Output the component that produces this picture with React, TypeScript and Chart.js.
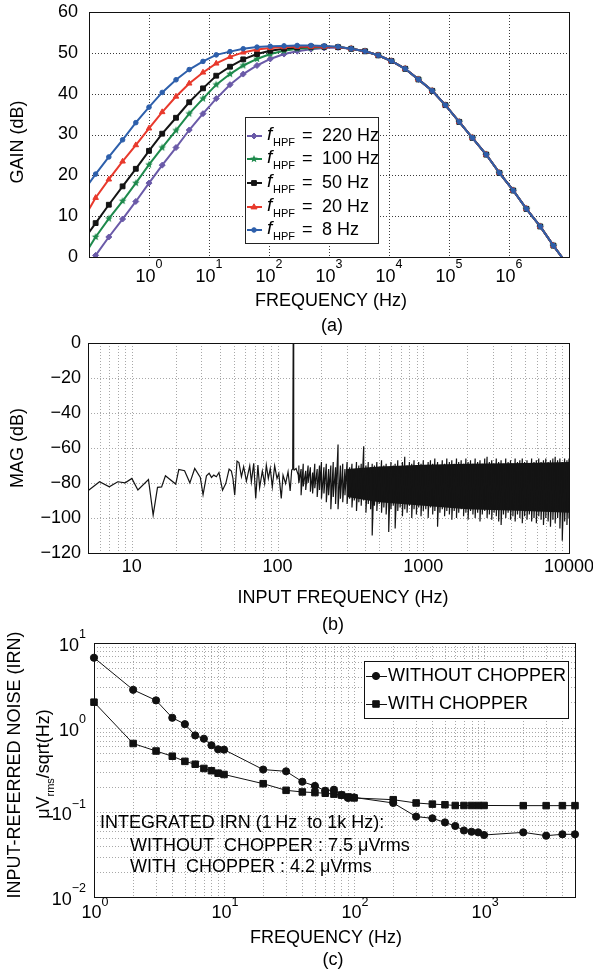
import React, { useEffect, useRef } from 'react';
import { Chart, registerables } from 'chart.js';

Chart.register(...registerables);

const W = 593;
const H = 974;
const FONT = '"Liberation Sans", Arial, Helvetica, sans-serif';
const FS = 18;

// ---------------- (a) GAIN vs FREQUENCY ----------------
const GAIN_FREQ_HZ = [0.1, 0.129, 0.214, 0.363, 0.603, 1, 1.66, 2.82, 4.68, 7.94, 13.2, 22.4, 37.2, 63.1, 105, 178, 295, 501, 832, 1413,
  2344, 3981, 6607, 10965, 18621, 30903, 52481, 87096, 147911, 245471, 416869, 691831, 1174898, 1949845, 3311311, 5495409, 10000000];
const GAIN_220HZ = [-1.8, 0.4, 4.9, 9.3, 13.6, 18.1, 22.5, 26.8, 31.1, 35.1, 38.8, 42.2, 44.8, 46.9, 48.5, 49.7, 50.4, 50.9, 51.2, 51.3];
const GAIN_100HZ = [2.3, 4.9, 9.4, 13.7, 18.1, 22.6, 26.8, 31.0, 35.1, 38.8, 42.2, 44.8, 46.9, 48.5, 49.7, 50.5, 51.0, 51.2, 51.4, 51.4];
const GAIN_50HZ = [6.0, 8.3, 12.8, 17.3, 21.6, 26.0, 30.2, 34.1, 37.9, 41.3, 44.4, 46.6, 48.4, 49.7, 50.5, 51.0, 51.3, 51.5, 51.5, 51.4];
const GAIN_20HZ = [11.7, 14.5, 19.0, 23.4, 27.4, 31.5, 35.5, 39.3, 42.5, 45.2, 47.4, 49.0, 50.1, 50.8, 51.2, 51.4, 51.5, 51.5, 51.5, 51.4];
const GAIN_8HZ = [18.0, 20.3, 24.5, 28.7, 32.9, 36.7, 40.3, 43.4, 45.9, 47.9, 49.5, 50.3, 51.0, 51.4, 51.6, 51.7, 51.8, 51.8, 51.7, 51.5];
// shared high-frequency roll-off (all curves coincide)
const GAIN_TAIL = [51.0, 50.4, 49.4, 48.0, 46.1, 43.5, 40.7, 37.2, 33.1, 29.2, 25.1, 20.6, 16.3, 11.8, 7.5, 2.8, -2.4];
const GAIN_X_TICKS = [1, 10, 100, 1000, 10000, 100000, 1000000];
const GAIN_X_EXP = ['0', '1', '2', '3', '4', '5', '6'];
const GAIN_Y_TICKS = [0, 10, 20, 30, 40, 50, 60];
const HPF_LABELS = ['220 Hz', '100 Hz', '50 Hz', '20 Hz', '8 Hz'];

// ---------------- (b) MAG vs INPUT FREQUENCY ----------------
const SPEC_LOW_F = [4.8, 6, 7, 8, 9, 10, 11, 13, 14, 15, 16, 17, 20, 21, 23, 25, 27, 29.5, 30.8, 32.5, 33.9, 35.2, 36.5, 38, 39.6, 41.9, 44.1, 46.5,
  48.2, 49.4, 50.8, 52.7, 54.3, 56.5, 58.5, 61.1, 64.4, 66.1, 68.6, 70.8, 73.3, 75.3, 78.6, 81.5, 83.7, 86.4, 89.1, 92, 95.5, 99.1, 102, 106,
  109, 113.5, 118, 122, 125, 127, 128, 129, 130, 134, 138.7];
const SPEC_LOW_DB = [-85.5, -79.3, -82.2, -79.3, -79.9, -77.4, -84.0, -78.0, -98.3, -82.5, -82.2, -75.9, -80.6, -72.3, -73.0, -79.9, -71.7, -76.8,
  -86.7, -75.9, -74.4, -76.8, -75.5, -76.4, -74.0, -84.1, -80.3, -72.1, -73.2, -77.4, -86.9, -67.5, -68.3, -76.4, -70.7, -78.9, -70.2, -79.3,
  -68.8, -88.8, -69.8, -82.7, -73.2, -80.3, -69.8, -77.4, -71.7, -82.2, -70.2, -77.4, -74.5, -88.8, -75.5, -80.3, -73.6, -84.6, -72.6, -72,
  0, -72, -72.6, -71.7, -75.5];
const NOISE_F = [140, 145, 150, 156, 162, 168, 174, 180, 187, 194,
  200, 208, 216, 224, 232, 241, 250, 260, 270, 280,
  290, 300, 312, 324, 336, 348, 361, 375, 390, 404,
  419, 435, 446, 462, 480, 498, 517, 536, 556, 579,
  600, 622, 641, 668, 693, 719, 746, 774, 803, 833,
  864, 897, 930, 965, 1000, 1040, 1080, 1120, 1160, 1200,
  1253, 1300, 1350, 1400, 1450, 1510, 1570, 1630, 1690, 1750,
  1820, 1890, 1960, 2030, 2110, 2190, 2270, 2360, 2450, 2540,
  2640, 2740, 2840, 2950, 3060, 3170, 3290, 3420, 3550, 3680,
  3820, 3970, 4120, 4270, 4430, 4600, 4780, 4960, 5150, 5340,
  5540, 5750, 5970, 6200, 6430, 6680, 6930, 7190, 7460, 7750,
  8040, 8350, 8660, 8990, 9330, 9680, 10000];
const NOISE_TOP = [-70, -72, -69, -73, -70, -71, -74, -69, -72, -70,
  -68, -71, -69, -72, -70, -68, -71, -58, -70, -69,
  -72, -68, -71, -69, -72, -68, -70, -69, -59, -70,
  -68, -71, -69, -70, -68, -71, -67, -70, -69, -71,
  -68, -70, -69, -67, -71, -68, -65, -70, -68, -69,
  -67, -70, -68, -69, -67, -70, -68, -67, -69, -66,
  -68, -70, -67, -69, -66, -68, -67, -69, -66, -68,
  -67, -69, -66, -68, -67, -69, -66, -68, -67, -69,
  -66, -65, -68, -67, -69, -66, -68, -67, -69, -66,
  -68, -67, -69, -66, -68, -67, -66, -68, -67, -69,
  -66, -68, -67, -66, -68, -67, -66, -68, -67, -66,
  -65, -67, -66, -68, -66, -67, -66];
const NOISE_BOT = [-80, -87, -82, -84, -80, -85, -86, -83, -88, -84,
  -89, -86, -91, -87, -95, -88, -92, -95, -89, -91,
  -87, -92, -89, -94, -90, -96, -91, -93, -90, -97,
  -92, -95, -110, -93, -96, -92, -97, -94, -98, -108,
  -95, -93, -106, -96, -94, -99, -95, -97, -93, -100,
  -95, -98, -94, -99, -96, -95, -100, -94, -98, -96,
  -105, -97, -95, -99, -96, -98, -101, -96, -100, -97,
  -95, -99, -97, -101, -96, -98, -100, -97, -102, -98,
  -96, -100, -98, -101, -97, -99, -102, -104, -98, -100,
  -97, -101, -99, -102, -98, -100, -103, -99, -101, -98,
  -102, -100, -103, -99, -101, -104, -100, -102, -105, -101,
  -103, -100, -106, -113, -102, -104, -100];
const BAND_F = [300, 500, 1000, 2000, 5000, 10000];
const BAND_TOP = [-72, -70.5, -69.5, -69, -68.5, -68];
const BAND_BOT = [-88, -91, -93, -95, -96, -97];
const SPEC_X_TICKS = [10, 100, 1000, 10000];
const SPEC_X_GRID = [6, 7, 8, 9, 10, 20, 30, 40, 50, 60, 70, 80, 90, 100, 200, 300, 400, 500, 600, 700, 800, 900, 1000,
  2000, 3000, 4000, 5000, 6000, 7000, 8000, 9000];
const SPEC_Y_TICKS = [0, -20, -40, -60, -80, -100, -120];

// ---------------- (c) INPUT-REFERRED NOISE ----------------
const IRN_F = [1, 2, 3, 4, 5, 6, 7, 8, 9, 10, 20, 30, 40, 50, 60, 70, 80, 90, 100, 200, 300, 400, 500, 600, 700, 800, 900, 1000,
  2000, 3000, 4000, 5000];
const IRN_WITHOUT = [6.7, 2.8, 2.1, 1.31, 1.1, 0.81, 0.74, 0.62, 0.555, 0.55, 0.32, 0.305, 0.23, 0.205, 0.18, 0.185, 0.16, 0.148, 0.15,
  0.129, 0.089, 0.085, 0.076, 0.069, 0.061, 0.059, 0.058, 0.054, 0.058, 0.053, 0.055, 0.055];
const IRN_WITH = [2.0, 0.65, 0.53, 0.46, 0.40, 0.37, 0.33, 0.31, 0.29, 0.28, 0.218, 0.182, 0.174, 0.171, 0.168, 0.164, 0.16, 0.152, 0.148,
  0.141, 0.129, 0.125, 0.123, 0.1205, 0.1205, 0.1205, 0.1205, 0.1205, 0.12, 0.12, 0.12, 0.12];
const IRN_X_TICKS = [1, 10, 100, 1000];
const IRN_X_EXP = ['0', '1', '2', '3'];
const IRN_Y_TICKS = [10, 1, 0.1, 0.01];
const IRN_Y_EXP = ['1', '0', '\u22121', '\u22122'];
const IRN_X_GRID = [2, 3, 4, 5, 6, 7, 8, 9, 10, 20, 30, 40, 50, 60, 70, 80, 90, 100, 200, 300, 400, 500, 600, 700, 800, 900, 1000,
  2000, 3000, 4000];
const IRN_Y_GRID = [0.02, 0.03, 0.04, 0.05, 0.06, 0.07, 0.08, 0.09, 0.1, 0.2, 0.3, 0.4, 0.5, 0.6, 0.7, 0.8, 0.9, 1,
  2, 3, 4, 5, 6, 7, 8, 9];
const IRN_LEGEND = ['WITHOUT CHOPPER', 'WITH CHOPPER'];
const IRN_NOTE = ['INTEGRATED IRN (1\u2009Hz  to 1k Hz):', 'WITHOUT  CHOPPER : 7.5 \u03bcVrms', 'WITH  CHOPPER : 4.2 \u03bcVrms'];

// ---------------- styles ----------------
const SERIES_A = [
  { vals: GAIN_220HZ, color: '#6a5aa8', marker: 'rectRot', r: 3 },
  { vals: GAIN_100HZ, color: '#1e8a4c', marker: 'star', r: 4 },
  { vals: GAIN_50HZ, color: '#141414', marker: 'rect', r: 3.4 },
  { vals: GAIN_20HZ, color: '#e8392c', marker: 'triangle', r: 3.2 },
  { vals: GAIN_8HZ, color: '#2d5fab', marker: 'circle', r: 2.3 },
];

function makeStar(color: string, r: number) {
  const c = document.createElement('canvas');
  const s = Math.ceil(r * 2 + 2);
  c.width = s; c.height = s;
  const g = c.getContext('2d')!;
  g.fillStyle = color;
  g.beginPath();
  for (let k = 0; k < 10; k++) {
    const ang = -Math.PI / 2 + (k * Math.PI) / 5;
    const rr = k % 2 === 0 ? r : r * 0.45;
    g.lineTo(s / 2 + rr * Math.cos(ang), s / 2 + rr * Math.sin(ang));
  }
  g.closePath();
  g.fill();
  return c;
}

function txt(ctx: any, s: string, x: number, y: number, size = FS, align: any = 'center', rot = 0, style = '') {
  ctx.save();
  ctx.translate(x, y);
  if (rot) ctx.rotate(rot);
  ctx.font = `${style}${size}px ${FONT}`;
  ctx.fillStyle = '#000';
  ctx.textAlign = align;
  ctx.textBaseline = 'middle';
  ctx.fillText(s, 0, 0);
  ctx.restore();
}

function pow10(ctx: any, exp: string, x: number, baseY: number, expY: number, align: 'center' | 'right') {
  ctx.save();
  ctx.font = `${FS}px ${FONT}`;
  const wb = ctx.measureText('10').width;
  ctx.font = `12.5px ${FONT}`;
  const we = ctx.measureText(exp).width;
  const total = wb + we;
  const x0 = align === 'center' ? x - total / 2 : x - total;
  ctx.fillStyle = '#000';
  ctx.textAlign = 'left';
  ctx.textBaseline = 'middle';
  ctx.font = `${FS}px ${FONT}`;
  ctx.fillText('10', x0, baseY);
  ctx.font = `12.5px ${FONT}`;
  ctx.fillText(exp, x0 + wb, expY);
  ctx.restore();
}

function drawGrid(chart: any, xs: number[], ys: number[], color: string) {
  const { ctx, chartArea: a, scales } = chart;
  ctx.save();
  ctx.strokeStyle = color;
  ctx.lineWidth = 1;
  ctx.setLineDash([1, 2]);
  ctx.beginPath();
  for (const v of xs) {
    const px = Math.round(scales.x.getPixelForValue(v)) + 0.5;
    ctx.moveTo(px, a.top); ctx.lineTo(px, a.bottom);
  }
  for (const v of ys) {
    const py = Math.round(scales.y.getPixelForValue(v)) + 0.5;
    ctx.moveTo(a.left, py); ctx.lineTo(a.right, py);
  }
  ctx.stroke();
  ctx.restore();
}

function drawFrame(chart: any) {
  const { ctx, chartArea: a } = chart;
  ctx.save();
  ctx.strokeStyle = '#111';
  ctx.lineWidth = 1;
  ctx.setLineDash([]);
  ctx.strokeRect(Math.round(a.left) + 0.5, Math.round(a.top) + 0.5, Math.round(a.right - a.left), Math.round(a.bottom - a.top));
  ctx.restore();
}

function drawMarker(ctx: any, kind: string, x: number, y: number, r: number, color: string, img?: any) {
  ctx.save();
  ctx.fillStyle = color;
  ctx.strokeStyle = color;
  ctx.lineWidth = 1;
  ctx.setLineDash([]);
  if (kind === 'star' && img) {
    ctx.drawImage(img, x - img.width / 2, y - img.height / 2);
    ctx.restore();
    return;
  }
  ctx.beginPath();
  if (kind === 'circle') ctx.arc(x, y, r, 0, Math.PI * 2);
  else if (kind === 'rect') { const s = r * Math.SQRT1_2; ctx.rect(x - s, y - s, 2 * s, 2 * s); }
  else if (kind === 'rectRot') { ctx.moveTo(x, y - r); ctx.lineTo(x + r, y); ctx.lineTo(x, y + r); ctx.lineTo(x - r, y); ctx.closePath(); }
  else if (kind === 'triangle') { ctx.moveTo(x, y - r); ctx.lineTo(x + r * 0.95, y + r * 0.6); ctx.lineTo(x - r * 0.95, y + r * 0.6); ctx.closePath(); }
  ctx.fill();
  ctx.stroke();
  ctx.restore();
}

function baseOptions(area: { l: number; t: number; r: number; b: number }, x: any, y: any, plugins: any = {}) {
  return {
    responsive: false,
    animation: false,
    devicePixelRatio: 1,
    events: [],
    layout: { padding: { left: area.l, top: area.t, right: W - area.r, bottom: H - area.b } },
    plugins: { legend: { display: false }, tooltip: { enabled: false }, ...plugins },
    scales: { x: { ...x, display: false }, y: { ...y, display: false } },
  };
}

function makeA(canvas: HTMLCanvasElement) {
  const starImg = makeStar('#1e8a4c', 4);
  const n = GAIN_FREQ_HZ.length;
  // Chart.js paints dataset 0 last (on top): put the 8 Hz curve first so it covers the shared tail
  const datasets = SERIES_A.slice().reverse().map((s) => ({
    data: GAIN_FREQ_HZ.map((f, i) => ({ x: f, y: i < s.vals.length ? s.vals[i] : GAIN_TAIL[i - s.vals.length] })),
    borderColor: s.color,
    backgroundColor: s.color,
    borderWidth: 2,
    pointStyle: s.marker === 'star' ? starImg : s.marker,
    pointRadius: (c: any) => (c.dataIndex === 0 || c.dataIndex === n - 1 ? 0 : s.r),
    pointBorderWidth: 1,
    pointBorderColor: s.color,
    pointBackgroundColor: s.color,
    clip: 0,
    fill: false,
  }));
  const plugin = {
    id: 'decorA',
    beforeDatasetsDraw(chart: any) {
      drawGrid(chart, GAIN_X_TICKS, [10, 20, 30, 40, 50], '#3a3a3a');
    },
    afterDatasetsDraw(chart: any) {
      drawFrame(chart);
    },
    afterDraw(chart: any) {
      const { ctx, scales } = chart;
      GAIN_Y_TICKS.forEach((v) => txt(ctx, String(v), 78, scales.y.getPixelForValue(v), FS, 'right'));
      GAIN_X_TICKS.forEach((v, i) => pow10(ctx, GAIN_X_EXP[i], scales.x.getPixelForValue(v), 277, 265, 'center'));
      txt(ctx, 'GAIN (dB)', 18, 142, FS, 'center', -Math.PI / 2);
      txt(ctx, 'FREQUENCY (Hz)', 331, 301, FS, 'center');
      txt(ctx, '(a)', 332, 326, FS, 'center');
      // legend
      const L = 245, T = 117, R = 379, B = 244;
      ctx.save();
      ctx.fillStyle = '#fff';
      ctx.fillRect(L, T, R - L, B - T);
      ctx.strokeStyle = '#222';
      ctx.lineWidth = 1;
      ctx.setLineDash([]);
      ctx.strokeRect(L + 0.5, T + 0.5, R - L - 1, B - T - 1);
      ctx.restore();
      const rows = [136, 159, 183, 207, 230];
      rows.forEach((y, i) => {
        const s = SERIES_A[i];
        ctx.save();
        ctx.strokeStyle = s.color;
        ctx.lineWidth = 2;
        ctx.beginPath();
        ctx.moveTo(247, y);
        ctx.lineTo(262, y);
        ctx.stroke();
        ctx.restore();
        drawMarker(ctx, s.marker, 254, y, s.r, s.color, starImg);
        txt(ctx, 'f', 267, y - 1, 19, 'left', 0, 'italic ');
        txt(ctx, 'HPF', 273, y + 7, 11, 'left');
        txt(ctx, '=', 302, y, FS, 'left');
        txt(ctx, HPF_LABELS[i], 322, y, FS, 'left');
      });
    },
  };
  return new Chart(canvas, {
    type: 'line',
    data: { datasets },
    options: baseOptions(
      { l: 89, t: 12, r: 569, b: 257 },
      { type: 'logarithmic', min: 0.1, max: 1e7 },
      { type: 'linear', min: 0, max: 60 },
    ) as any,
    plugins: [plugin],
  });
}

function makeB(canvas: HTMLCanvasElement) {
  const lowPts = SPEC_LOW_F.map((f, i) => ({ x: f, y: SPEC_LOW_DB[i] }));
  const noisePts: any[] = [];
  NOISE_F.forEach((f, i) => {
    noisePts.push({ x: f, y: NOISE_TOP[i] });
    noisePts.push({ x: f, y: NOISE_BOT[i] });
  });
  const datasets: any[] = [
    { data: lowPts.concat(noisePts), borderColor: '#141414', borderWidth: 1.2, pointRadius: 0, fill: false, clip: 0 },
    { data: BAND_F.map((f, i) => ({ x: f, y: BAND_TOP[i] })), borderWidth: 0, pointRadius: 0, fill: false, borderColor: 'rgba(0,0,0,0)' },
    { data: BAND_F.map((f, i) => ({ x: f, y: BAND_BOT[i] })), borderWidth: 0, pointRadius: 0, fill: '-1', backgroundColor: '#141414', borderColor: 'rgba(0,0,0,0)' },
  ];
  const plugin = {
    id: 'decorB',
    beforeDatasetsDraw(chart: any) {
      drawGrid(chart, SPEC_X_GRID, [-20, -40, -60, -80, -100], '#a8a8a8');
    },
    afterDatasetsDraw(chart: any) {
      drawFrame(chart);
    },
    afterDraw(chart: any) {
      const { ctx, scales } = chart;
      SPEC_Y_TICKS.forEach((v) => txt(ctx, v === 0 ? '0' : '\u2212' + String(-v), 81, scales.y.getPixelForValue(v), FS, 'right'));
      SPEC_X_TICKS.forEach((v) => txt(ctx, String(v), scales.x.getPixelForValue(v), 567, FS, 'center'));
      txt(ctx, 'MAG (dB)', 18, 448, FS, 'center', -Math.PI / 2);
      txt(ctx, 'INPUT FREQUENCY (Hz)', 343, 598, FS, 'center');
      txt(ctx, '(b)', 333, 625, FS, 'center');
    },
  };
  return new Chart(canvas, {
    type: 'line',
    data: { datasets },
    options: baseOptions(
      { l: 88, t: 343, r: 569, b: 553 },
      { type: 'logarithmic', min: 5, max: 10000 },
      { type: 'linear', min: -120, max: 0 },
      { filler: { propagate: false } },
    ) as any,
    plugins: [plugin],
  });
}

function makeC(canvas: HTMLCanvasElement) {
  const datasets: any[] = [
    {
      data: IRN_F.map((f, i) => ({ x: f, y: IRN_WITHOUT[i] })),
      borderColor: '#111', backgroundColor: '#111', borderWidth: 1,
      pointStyle: 'circle', pointRadius: 3.6, pointBackgroundColor: '#111', pointBorderColor: '#111', pointBorderWidth: 1,
      clip: false, fill: false,
    },
    {
      data: IRN_F.map((f, i) => ({ x: f, y: IRN_WITH[i] })),
      borderColor: '#111', backgroundColor: '#111', borderWidth: 1,
      pointStyle: 'rect', pointRadius: 4.6, pointBackgroundColor: '#111', pointBorderColor: '#111', pointBorderWidth: 1,
      clip: false, fill: false,
    },
  ];
  const plugin = {
    id: 'decorC',
    beforeDatasetsDraw(chart: any) {
      drawGrid(chart, IRN_X_GRID, IRN_Y_GRID, '#a8a8a8');
      drawFrame(chart);
    },
    afterDraw(chart: any) {
      const { ctx, scales } = chart;
      IRN_Y_TICKS.forEach((v, i) => {
        const py = scales.y.getPixelForValue(v);
        pow10(ctx, IRN_Y_EXP[i], 86, py + 3, py - 8, 'right');
      });
      IRN_X_TICKS.forEach((v, i) => pow10(ctx, IRN_X_EXP[i], scales.x.getPixelForValue(v) + 1, 913, 903, 'center'));
      txt(ctx, 'INPUT-REFERRED NOISE (IRN)', 15, 765, FS, 'center', -Math.PI / 2);
      // units line: uV_rms/sqrt(Hz)
      ctx.save();
      ctx.translate(44, 764);
      ctx.rotate(-Math.PI / 2);
      ctx.fillStyle = '#000';
      ctx.textBaseline = 'middle';
      ctx.textAlign = 'left';
      ctx.font = `${FS}px ${FONT}`;
      const w1 = ctx.measureText('\u03bcV').width;
      const w3 = ctx.measureText('/sqrt(Hz)').width;
      ctx.font = `11px ${FONT}`;
      const w2 = ctx.measureText('rms').width;
      let x = -(w1 + w2 + w3) / 2;
      ctx.font = `${FS}px ${FONT}`;
      ctx.fillText('\u03bcV', x, 0);
      x += w1;
      ctx.font = `11px ${FONT}`;
      ctx.fillText('rms', x, 7);
      x += w2;
      ctx.font = `${FS}px ${FONT}`;
      ctx.fillText('/sqrt(Hz)', x, 0);
      ctx.restore();
      txt(ctx, 'FREQUENCY (Hz)', 326, 938, FS, 'center');
      txt(ctx, '(c)', 333, 960, FS, 'center');
      txt(ctx, IRN_NOTE[0], 100, 823, FS, 'left');
      txt(ctx, IRN_NOTE[1], 130, 846, FS, 'left');
      txt(ctx, IRN_NOTE[2], 130, 867, FS, 'left');
      // legend
      const L = 364, T = 661, R = 569, B = 719;
      ctx.save();
      ctx.fillStyle = '#fff';
      ctx.fillRect(L, T, R - L, B - T);
      ctx.strokeStyle = '#111';
      ctx.lineWidth = 1;
      ctx.setLineDash([]);
      ctx.strokeRect(L + 0.5, T + 0.5, R - L - 1, B - T - 1);
      ctx.restore();
      [676, 704].forEach((y, i) => {
        ctx.save();
        ctx.strokeStyle = '#111';
        ctx.lineWidth = 1;
        ctx.beginPath();
        ctx.moveTo(366, y + 0.5);
        ctx.lineTo(387, y + 0.5);
        ctx.stroke();
        ctx.restore();
        if (i === 0) drawMarker(ctx, 'circle', 376, y, 3.6, '#111');
        else drawMarker(ctx, 'rect', 376, y, 4.6, '#111');
        txt(ctx, IRN_LEGEND[i], 388, y, FS, 'left');
      });
    },
  };
  return new Chart(canvas, {
    type: 'line',
    data: { datasets },
    options: baseOptions(
      { l: 94, t: 643, r: 575, b: 897 },
      { type: 'logarithmic', min: 1, max: 5000 },
      { type: 'logarithmic', min: 0.01, max: 10 },
    ) as any,
    plugins: [plugin],
  });
}

export default function App() {
  const refA = useRef<HTMLCanvasElement>(null);
  const refB = useRef<HTMLCanvasElement>(null);
  const refC = useRef<HTMLCanvasElement>(null);
  useEffect(() => {
    const charts = [makeA(refA.current!), makeB(refB.current!), makeC(refC.current!)];
    return () => charts.forEach((c) => c.destroy());
  }, []);
  const st: React.CSSProperties = { position: 'absolute', left: 0, top: 0, width: W, height: H };
  return (
    <div style={{ position: 'absolute', left: 0, top: 0, width: W, height: H, background: '#fff', overflow: 'hidden' }}>
      <canvas ref={refA} width={W} height={H} style={st} />
      <canvas ref={refB} width={W} height={H} style={st} />
      <canvas ref={refC} width={W} height={H} style={st} />
    </div>
  );
}
